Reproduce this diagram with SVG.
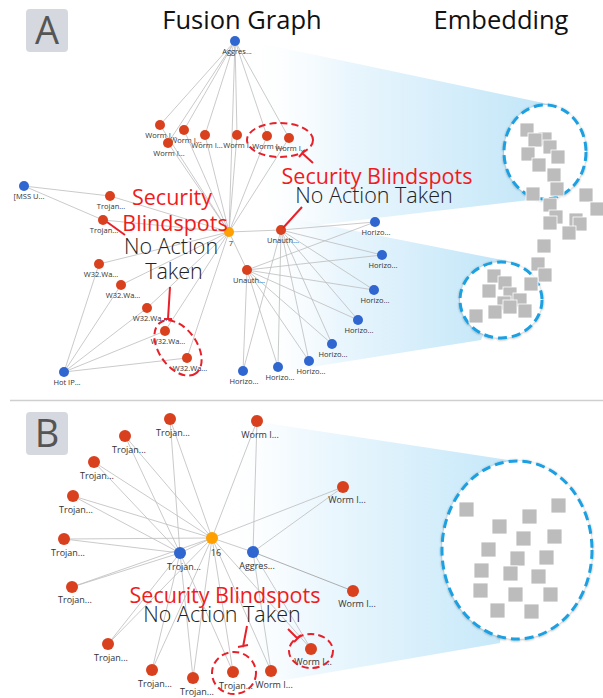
<svg xmlns="http://www.w3.org/2000/svg" xmlns:xlink="http://www.w3.org/1999/xlink" width="603" height="698" viewBox="0 0 603 698">
<style>
.e{stroke:#bdbdbd;stroke-width:0.8;fill:none}
.r{fill:#d9411e}
.b{fill:#2f66d0}
.o{fill:#ffa000}
.la{font-family:"Open Sans","Liberation Sans",sans-serif;font-size:7.5px;fill:#333;text-anchor:middle}
.lb{font-family:"Open Sans","Liberation Sans",sans-serif;font-size:9px;fill:#333;text-anchor:middle}
.title{font-family:"Open Sans","Liberation Sans",sans-serif;font-size:25.5px;fill:#111;text-anchor:middle}
.panel{font-family:"Open Sans","Liberation Sans",sans-serif;font-size:38px;fill:#555;text-anchor:middle}
.sec{font-family:"Open Sans","Liberation Sans",sans-serif;font-size:21.5px;fill:#f01c1c;text-anchor:middle}
.nat{font-family:"Open Sans","Liberation Sans",sans-serif;font-size:21.5px;font-weight:300;fill:#222;text-anchor:middle}
.ptr{stroke:#e8202a;stroke-width:2;fill:none}
.dr{stroke:#e8202a;stroke-width:2;stroke-dasharray:7 4;fill:none}
.db{stroke:#1ba0e2;stroke-width:3;stroke-dasharray:9 5;fill:#fff}
.sq{fill:#bcbcbc;stroke:#fff;stroke-width:0.8}
</style>
<defs>
<linearGradient id="gA1" gradientUnits="userSpaceOnUse" x1="240" y1="0" x2="545" y2="0">
<stop offset="0" stop-color="#ffffff" stop-opacity="0"/>
<stop offset="0.35" stop-color="#eaf6fd"/>
<stop offset="1" stop-color="#c2e6f8"/>
</linearGradient>
<linearGradient id="gA2" gradientUnits="userSpaceOnUse" x1="250" y1="0" x2="500" y2="0">
<stop offset="0" stop-color="#ffffff" stop-opacity="0"/>
<stop offset="0.35" stop-color="#eaf6fd"/>
<stop offset="1" stop-color="#c2e6f8"/>
</linearGradient>
<linearGradient id="gB" gradientUnits="userSpaceOnUse" x1="215" y1="0" x2="505" y2="0">
<stop offset="0" stop-color="#ffffff" stop-opacity="0"/>
<stop offset="0.3" stop-color="#f0f9fe"/>
<stop offset="1" stop-color="#c6e8f9"/>
</linearGradient>
<filter id="sh" x="-20%" y="-20%" width="140%" height="140%">
<feDropShadow dx="0" dy="0.5" stdDeviation="0.8" flood-color="#000" flood-opacity="0.35"/>
</filter>
<rect id="sq" width="14" height="14"/>
<rect id="sqb" width="15" height="15"/>
</defs>
<rect width="603" height="698" fill="#fff"/>

<!-- panel labels and titles -->
<g id="panel-A-label"><rect x="26" y="9" width="42" height="43" rx="4" fill="#d5d8de"/><text class="panel" x="47" y="44">A</text></g>
<g id="panel-B-label"><rect x="26" y="412" width="42" height="43" rx="4" fill="#d5d8de"/><text class="panel" x="47" y="447">B</text></g>
<text class="title" x="242" y="29">Fusion Graph</text>
<text class="title" x="501" y="29">Embedding</text>
<line x1="10" y1="400.5" x2="603" y2="400.5" stroke="#cfcfcf" stroke-width="1.5"/>

<!-- wedges -->
<g id="wedges">
<polygon points="235,38 548,104 530,200 275,230" fill="url(#gA1)"/>
<polygon points="275,215 512,262 481,340 243,378" fill="url(#gA2)"/>
<polygon points="200,413 515,461 500,643 262,684" fill="url(#gB)"/>
</g>

<!-- embedding A -->
<g id="embedding-A">
<ellipse cx="545" cy="152" rx="41" ry="47" class="db" filter="url(#sh)"/>
<ellipse cx="501" cy="300" rx="41" ry="38" class="db" filter="url(#sh)"/>
<g class="sq">
<use href="#sq" x="520" y="123"/><use href="#sq" x="538" y="132"/><use href="#sq" x="528" y="133"/>
<use href="#sq" x="543" y="140"/><use href="#sq" x="521" y="147"/><use href="#sq" x="551" y="150"/>
<use href="#sq" x="532" y="158"/><use href="#sq" x="547" y="168"/><use href="#sq" x="550" y="182"/>
<use href="#sq" x="526" y="187"/><use href="#sq" x="579" y="188"/><use href="#sq" x="543" y="198"/>
<use href="#sq" x="590" y="202"/><use href="#sq" x="549" y="210"/><use href="#sq" x="569" y="213"/>
<use href="#sq" x="543" y="216"/><use href="#sq" x="573" y="217"/><use href="#sq" x="562" y="226"/>
<use href="#sq" x="537" y="239"/><use href="#sq" x="531" y="257"/><use href="#sq" x="538" y="268"/>
<use href="#sq" x="524" y="277"/><use href="#sq" x="487" y="269"/><use href="#sq" x="482" y="284"/>
<use href="#sq" x="498" y="276"/><use href="#sq" x="503" y="287"/><use href="#sq" x="513" y="293"/>
<use href="#sq" x="497" y="296"/><use href="#sq" x="503" y="300"/><use href="#sq" x="518" y="304"/>
<use href="#sq" x="488" y="305"/><use href="#sq" x="469" y="309"/>
</g>
</g>

<!-- embedding B -->
<g id="embedding-B">
<ellipse cx="517" cy="550" rx="75" ry="89" class="db" filter="url(#sh)"/>
<g class="sq">
<use href="#sqb" x="459" y="502"/><use href="#sqb" x="551" y="498"/><use href="#sqb" x="522" y="509"/>
<use href="#sqb" x="492" y="519"/><use href="#sqb" x="516" y="531"/><use href="#sqb" x="547" y="529"/>
<use href="#sqb" x="481" y="542"/><use href="#sqb" x="510" y="551"/><use href="#sqb" x="539" y="550"/>
<use href="#sqb" x="474" y="563"/><use href="#sqb" x="503" y="566"/><use href="#sqb" x="531" y="569"/>
<use href="#sqb" x="473" y="583"/><use href="#sqb" x="508" y="587"/><use href="#sqb" x="543" y="587"/>
<use href="#sqb" x="490" y="603"/><use href="#sqb" x="524" y="604"/>
</g>
</g>

<!-- connectors -->
<g id="connectors" class="e">
<line x1="235" y1="41" x2="160" y2="125"/><line x1="235" y1="41" x2="184" y2="130"/>
<line x1="235" y1="41" x2="168" y2="143"/><line x1="235" y1="41" x2="205" y2="135"/>
<line x1="235" y1="41" x2="237" y2="135"/><line x1="235" y1="41" x2="267" y2="136"/>
<line x1="235" y1="41" x2="289" y2="138"/><line x1="235" y1="41" x2="229" y2="232"/>
<line x1="160" y1="125" x2="229" y2="232"/><line x1="184" y1="130" x2="229" y2="232"/>
<line x1="168" y1="143" x2="229" y2="232"/><line x1="205" y1="135" x2="229" y2="232"/>
<line x1="237" y1="135" x2="229" y2="232"/><line x1="267" y1="136" x2="229" y2="232"/>
<line x1="289" y1="138" x2="229" y2="232"/>
<line x1="24" y1="186" x2="110" y2="196"/><line x1="24" y1="186" x2="103" y2="220"/>
<line x1="110" y1="196" x2="229" y2="232"/><line x1="103" y1="220" x2="229" y2="232"/>
<line x1="99" y1="264" x2="229" y2="232"/><line x1="121" y1="285" x2="229" y2="232"/>
<line x1="147" y1="308" x2="229" y2="232"/><line x1="165" y1="331" x2="229" y2="232"/>
<line x1="187" y1="358" x2="229" y2="232"/>
<line x1="64" y1="372" x2="99" y2="264"/><line x1="64" y1="372" x2="121" y2="285"/>
<line x1="64" y1="372" x2="147" y2="308"/><line x1="64" y1="372" x2="165" y2="331"/>
<line x1="64" y1="372" x2="187" y2="358"/>
<line x1="229" y1="232" x2="281" y2="230"/><line x1="229" y1="232" x2="247" y2="270"/>
<line x1="281" y1="230" x2="375" y2="222"/><line x1="281" y1="230" x2="382" y2="255"/>
<line x1="281" y1="230" x2="374" y2="290"/><line x1="281" y1="230" x2="358" y2="320"/>
<line x1="281" y1="230" x2="332" y2="344"/><line x1="281" y1="230" x2="309" y2="361"/>
<line x1="281" y1="230" x2="278" y2="367"/><line x1="281" y1="230" x2="243" y2="371"/>
<line x1="247" y1="270" x2="375" y2="222"/><line x1="247" y1="270" x2="382" y2="255"/>
<line x1="247" y1="270" x2="374" y2="290"/><line x1="247" y1="270" x2="358" y2="320"/>
<line x1="247" y1="270" x2="332" y2="344"/><line x1="247" y1="270" x2="309" y2="361"/>
<line x1="247" y1="270" x2="278" y2="367"/><line x1="247" y1="270" x2="243" y2="371"/>
<line x1="212" y1="538" x2="170" y2="419"/><line x1="212" y1="538" x2="257" y2="421"/>
<line x1="212" y1="538" x2="125" y2="436"/><line x1="212" y1="538" x2="94" y2="462"/>
<line x1="212" y1="538" x2="73" y2="496"/><line x1="212" y1="538" x2="64" y2="539"/>
<line x1="212" y1="538" x2="72" y2="587"/><line x1="212" y1="538" x2="108" y2="644"/>
<line x1="212" y1="538" x2="152" y2="670"/><line x1="212" y1="538" x2="193" y2="678"/>
<line x1="212" y1="538" x2="233" y2="672"/><line x1="212" y1="538" x2="271" y2="671"/>
<line x1="212" y1="538" x2="343" y2="487"/><line x1="212" y1="538" x2="311" y2="649"/>
<line x1="212" y1="538" x2="180" y2="553"/><line x1="212" y1="538" x2="253" y2="552"/>
<line x1="180" y1="553" x2="170" y2="419"/><line x1="180" y1="553" x2="125" y2="436"/>
<line x1="180" y1="553" x2="94" y2="462"/><line x1="180" y1="553" x2="73" y2="496"/>
<line x1="180" y1="553" x2="64" y2="539"/><line x1="180" y1="553" x2="72" y2="587"/>
<line x1="180" y1="553" x2="108" y2="644"/><line x1="180" y1="553" x2="152" y2="670"/>
<line x1="180" y1="553" x2="193" y2="678"/><line x1="180" y1="553" x2="233" y2="672"/>
<line x1="253" y1="552" x2="257" y2="421"/><line x1="253" y1="552" x2="343" y2="487"/>
<line x1="253" y1="552" x2="353" y2="591" stroke="#9a9a9a"/><line x1="253" y1="552" x2="311" y2="649"/>
<line x1="253" y1="552" x2="271" y2="671"/>
</g>

<!-- panel A nodes -->
<g id="a-aggres"><circle class="b" cx="235" cy="41" r="5"/><text class="la" x="237" y="54">Aggres...</text></g>
<g id="a-worm1"><circle class="r" cx="160" cy="125" r="5"/><text class="la" x="161" y="138">Worm I...</text></g>
<g id="a-worm2"><circle class="r" cx="184" cy="130" r="5"/><text class="la" x="186" y="143">Worm I...</text></g>
<g id="a-worm3"><circle class="r" cx="168" cy="143" r="5"/><text class="la" x="169" y="156">Worm I...</text></g>
<g id="a-worm4"><circle class="r" cx="205" cy="135" r="5"/><text class="la" x="207" y="148">Worm I...</text></g>
<g id="a-worm5"><circle class="r" cx="237" cy="135" r="5"/><text class="la" x="239" y="148">Worm I...</text></g>
<g id="a-worm6"><circle class="r" cx="267" cy="136" r="5"/><text class="la" x="268" y="149">Worm I...</text></g>
<g id="a-worm7"><circle class="r" cx="289" cy="138" r="5"/><text class="la" x="291" y="151">Worm I...</text></g>
<g id="a-center"><circle class="o" cx="229" cy="232" r="5"/><text class="la" x="231" y="246">7</text></g>
<g id="a-mss"><circle class="b" cx="24" cy="186" r="5"/><text class="la" x="29" y="199">[MSS U...</text></g>
<g id="a-trojan1"><circle class="r" cx="110" cy="196" r="5"/><text class="la" x="111" y="209">Trojan...</text></g>
<g id="a-trojan2"><circle class="r" cx="103" cy="220" r="5"/><text class="la" x="104" y="233">Trojan...</text></g>
<g id="a-w32-1"><circle class="r" cx="99" cy="264" r="5"/><text class="la" x="101" y="277">W32.Wa...</text></g>
<g id="a-w32-2"><circle class="r" cx="121" cy="285" r="5"/><text class="la" x="123" y="298">W32.Wa...</text></g>
<g id="a-w32-3"><circle class="r" cx="147" cy="308" r="5"/><text class="la" x="150" y="321">W32.Wa...</text></g>
<g id="a-w32-4"><circle class="r" cx="165" cy="331" r="5"/><text class="la" x="168" y="344">W32.Wa...</text></g>
<g id="a-w32-5"><circle class="r" cx="187" cy="358" r="5"/><text class="la" x="190" y="371">W32.Wa...</text></g>
<g id="a-hotip"><circle class="b" cx="64" cy="372" r="5"/><text class="la" x="67" y="385">Hot IP...</text></g>
<g id="a-unauth1"><circle class="r" cx="281" cy="230" r="5"/><text class="la" x="283" y="243">Unauth...</text></g>
<g id="a-unauth2"><circle class="r" cx="247" cy="270" r="5"/><text class="la" x="249" y="283">Unauth...</text></g>
<g id="a-horizo1"><circle class="b" cx="375" cy="222" r="5"/><text class="la" x="376" y="235">Horizo...</text></g>
<g id="a-horizo2"><circle class="b" cx="382" cy="255" r="5"/><text class="la" x="383" y="268">Horizo...</text></g>
<g id="a-horizo3"><circle class="b" cx="374" cy="290" r="5"/><text class="la" x="375" y="303">Horizo...</text></g>
<g id="a-horizo4"><circle class="b" cx="358" cy="320" r="5"/><text class="la" x="359" y="333">Horizo...</text></g>
<g id="a-horizo5"><circle class="b" cx="332" cy="344" r="5"/><text class="la" x="333" y="357">Horizo...</text></g>
<g id="a-horizo6"><circle class="b" cx="309" cy="361" r="5"/><text class="la" x="311" y="374">Horizo...</text></g>
<g id="a-horizo7"><circle class="b" cx="278" cy="367" r="5"/><text class="la" x="280" y="380">Horizo...</text></g>
<g id="a-horizo8"><circle class="b" cx="243" cy="371" r="5"/><text class="la" x="244" y="384">Horizo...</text></g>

<!-- panel B nodes -->
<g id="b-center"><circle class="o" cx="212" cy="538" r="6"/><text class="lb" x="216" y="556">16</text></g>
<g id="b-trojan-hub"><circle class="b" cx="180" cy="553" r="6"/><text class="lb" x="184" y="570">Trojan...</text></g>
<g id="b-aggres"><circle class="b" cx="253" cy="552" r="6"/><text class="lb" x="257" y="569">Aggres...</text></g>
<g id="b-trojan1"><circle class="r" cx="170" cy="419" r="6"/><text class="lb" x="173" y="436">Trojan...</text></g>
<g id="b-worm1"><circle class="r" cx="257" cy="421" r="6"/><text class="lb" x="260" y="438">Worm I...</text></g>
<g id="b-trojan2"><circle class="r" cx="125" cy="436" r="6"/><text class="lb" x="129" y="453">Trojan...</text></g>
<g id="b-trojan3"><circle class="r" cx="94" cy="462" r="6"/><text class="lb" x="97" y="479">Trojan...</text></g>
<g id="b-trojan4"><circle class="r" cx="73" cy="496" r="6"/><text class="lb" x="76" y="513">Trojan...</text></g>
<g id="b-trojan5"><circle class="r" cx="64" cy="539" r="6"/><text class="lb" x="68" y="556">Trojan...</text></g>
<g id="b-trojan6"><circle class="r" cx="72" cy="587" r="6"/><text class="lb" x="75" y="603">Trojan...</text></g>
<g id="b-trojan7"><circle class="r" cx="108" cy="644" r="6"/><text class="lb" x="111" y="661">Trojan...</text></g>
<g id="b-trojan8"><circle class="r" cx="152" cy="670" r="6"/><text class="lb" x="155" y="687">Trojan...</text></g>
<g id="b-trojan9"><circle class="r" cx="193" cy="678" r="6"/><text class="lb" x="197" y="695">Trojan...</text></g>
<g id="b-trojan10"><circle class="r" cx="233" cy="672" r="6"/><text class="lb" x="236" y="689">Trojan...</text></g>
<g id="b-worm2"><circle class="r" cx="271" cy="671" r="6"/><text class="lb" x="274" y="688">Worm I...</text></g>
<g id="b-worm3"><circle class="r" cx="343" cy="487" r="6"/><text class="lb" x="347" y="503">Worm I...</text></g>
<g id="b-worm4"><circle class="r" cx="353" cy="591" r="6"/><text class="lb" x="357" y="607">Worm I...</text></g>
<g id="b-worm5"><circle class="r" cx="311" cy="649" r="6"/><text class="lb" x="313" y="665">Worm I...</text></g>

<!-- annotations -->
<g id="annotations">
<ellipse class="dr" cx="280" cy="140" rx="33" ry="17"/>
<ellipse class="dr" cx="178" cy="348" rx="31" ry="19" transform="rotate(55 178 348)"/>
<ellipse class="dr" cx="234" cy="673" rx="22" ry="21"/>
<ellipse class="dr" cx="311" cy="651" rx="22" ry="17"/>
<path class="ptr" d="M107,222 L125,235"/>
<path class="ptr" d="M170,287 L168,319 M164,319 L172,319"/>
<path class="ptr" d="M302,207 L283,228"/>
<path class="ptr" d="M313,163 L302,153 M299,157 L305,150"/>
<path class="ptr" d="M247,626 L243,647 M238,647 L248,645"/>
<path class="ptr" d="M288,629 L298,639 M294,642 L301,635"/>
<text class="sec" x="172" y="205">Security</text>
<text class="sec" x="175" y="231">Blindspots</text>
<text class="nat" x="171" y="254">No Action</text>
<text class="nat" x="174" y="279">Taken</text>
<text class="sec" x="377" y="184">Security Blindspots</text>
<text class="nat" x="374" y="203">No Action Taken</text>
<text class="sec" x="225" y="603">Security Blindspots</text>
<text class="nat" x="222" y="622">No Action Taken</text>
</g>
</svg>
